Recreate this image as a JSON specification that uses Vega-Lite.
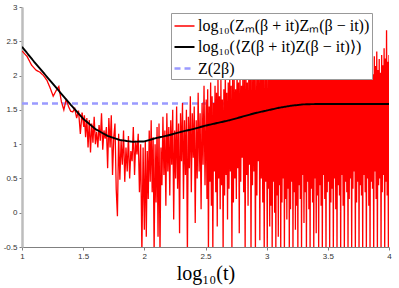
{
  "$schema": "https://vega.github.io/schema/vega-lite/v6.json",
  "width": 367,
  "height": 240,
  "autosize": {"type": "none"},
  "padding": {"left": 22, "top": 7, "right": 10, "bottom": 41},
  "background": "white",
  "datasets": {
    "ref": [{"x": 1, "y": 1.593}, {"x": 4, "y": 1.593}],
    "mean": [
      {"x": 1.0, "y": 2.42}, {"x": 1.1, "y": 2.2}, {"x": 1.2, "y": 1.99}, {"x": 1.3, "y": 1.78}, {"x": 1.4, "y": 1.57},
      {"x": 1.5, "y": 1.37}, {"x": 1.6, "y": 1.22}, {"x": 1.7, "y": 1.12}, {"x": 1.8, "y": 1.06}, {"x": 1.9, "y": 1.035},
      {"x": 2.0, "y": 1.04}, {"x": 2.1, "y": 1.09}, {"x": 2.2, "y": 1.13}, {"x": 2.3, "y": 1.18}, {"x": 2.4, "y": 1.22},
      {"x": 2.5, "y": 1.27}, {"x": 2.6, "y": 1.31}, {"x": 2.7, "y": 1.35}, {"x": 2.8, "y": 1.40}, {"x": 2.9, "y": 1.45},
      {"x": 3.0, "y": 1.49}, {"x": 3.1, "y": 1.53}, {"x": 3.2, "y": 1.56}, {"x": 3.3, "y": 1.58}, {"x": 3.4, "y": 1.585},
      {"x": 3.5, "y": 1.585}, {"x": 3.6, "y": 1.585}, {"x": 3.7, "y": 1.585}, {"x": 3.8, "y": 1.585}, {"x": 3.9, "y": 1.585}, {"x": 4.0, "y": 1.585}
    ],
    "raw": [
      {"x":1.000,"y":2.36},{"x":1.041,"y":2.28},{"x":1.079,"y":2.15},{"x":1.114,"y":2.08},{"x":1.146,"y":2.05},{"x":1.176,"y":2.00},
      {"x":1.204,"y":1.93},{"x":1.230,"y":1.82},{"x":1.255,"y":1.70},{"x":1.279,"y":1.78},{"x":1.301,"y":1.84},{"x":1.322,"y":1.62},
      {"x":1.342,"y":1.50},{"x":1.362,"y":1.66},{"x":1.380,"y":1.55},{"x":1.398,"y":1.48},{"x":1.415,"y":1.47},{"x":1.431,"y":1.52},
      {"x":1.447,"y":1.38},{"x":1.462,"y":1.49},{"x":1.477,"y":1.15},{"x":1.491,"y":1.46},{"x":1.505,"y":1.25},
      {"x":1.51,"y":1.42},{"x":1.52,"y":1.10},{"x":1.53,"y":1.38},{"x":1.54,"y":0.95},{"x":1.55,"y":1.35},{"x":1.56,"y":0.88},
      {"x":1.57,"y":1.30},{"x":1.58,"y":1.02},{"x":1.59,"y":1.40},{"x":1.60,"y":1.00},{"x":1.61,"y":1.18},{"x":1.62,"y":0.95},
      {"x":1.63,"y":1.28},{"x":1.64,"y":1.05},{"x":1.65,"y":1.45},{"x":1.66,"y":0.92},{"x":1.67,"y":1.20},{"x":1.68,"y":1.08},
      {"x":1.69,"y":1.25},{"x":1.70,"y":0.65},{"x":1.71,"y":1.38},{"x":1.72,"y":0.95},{"x":1.73,"y":1.42},{"x":1.74,"y":0.55},
      {"x":1.75,"y":1.10},{"x":1.76,"y":1.30},{"x":1.77,"y":0.35},{"x":1.78,"y":-0.05},{"x":1.79,"y":1.15},{"x":1.80,"y":0.48},
      {"x":1.81,"y":1.05},{"x":1.82,"y":0.70},{"x":1.83,"y":1.20},{"x":1.84,"y":0.45},{"x":1.85,"y":0.95},{"x":1.86,"y":0.60},
      {"x":1.87,"y":1.12},{"x":1.88,"y":0.50},{"x":1.89,"y":0.90},{"x":1.90,"y":0.75},{"x":1.91,"y":1.25},{"x":1.92,"y":0.55},
      {"x":1.93,"y":1.05},{"x":1.94,"y":0.85},{"x":1.95,"y":1.15},{"x":1.96,"y":0.30},{"x":1.97,"y":1.00},{"x":1.98,"y":-0.6},
      {"x":1.99,"y":0.95},{"x":2.00,"y":-0.25},
      {"x":2.008,"y":1.05},{"x":2.016,"y":-0.35},{"x":2.024,"y":0.90},{"x":2.032,"y":0.20},{"x":2.040,"y":1.20},{"x":2.048,"y":0.45},
      {"x":2.056,"y":1.35},{"x":2.064,"y":0.30},{"x":2.072,"y":1.10},{"x":2.080,"y":-0.6},{"x":2.088,"y":1.00},{"x":2.096,"y":0.15},
      {"x":2.104,"y":1.25},{"x":2.112,"y":-0.35},{"x":2.120,"y":1.30},{"x":2.128,"y":-0.6},{"x":2.136,"y":0.95},{"x":2.144,"y":0.40},
      {"x":2.152,"y":1.40},{"x":2.160,"y":0.55},{"x":2.168,"y":1.20},{"x":2.176,"y":0.10},{"x":2.184,"y":1.45},{"x":2.192,"y":0.60},
      {"x":2.200,"y":1.25},{"x":2.208,"y":0.25},{"x":2.216,"y":1.35},{"x":2.224,"y":0.70},{"x":2.232,"y":1.50},{"x":2.240,"y":-0.1},
      {"x":2.248,"y":1.20},{"x":2.256,"y":0.50},{"x":2.264,"y":1.55},{"x":2.272,"y":0.35},{"x":2.280,"y":1.30},{"x":2.288,"y":-0.3},
      {"x":2.296,"y":1.45},{"x":2.304,"y":0.75},{"x":2.312,"y":1.60},{"x":2.320,"y":0.20},{"x":2.328,"y":1.35},{"x":2.336,"y":0.55},
      {"x":2.344,"y":1.50},{"x":2.352,"y":-0.6},{"x":2.360,"y":1.40},{"x":2.368,"y":0.65},{"x":2.376,"y":1.70},{"x":2.384,"y":0.30},
      {"x":2.392,"y":1.45},{"x":2.400,"y":0.80},{"x":2.408,"y":1.55},{"x":2.416,"y":-0.15},{"x":2.424,"y":1.35},{"x":2.432,"y":0.50},
      {"x":2.440,"y":1.75},{"x":2.448,"y":0.60},{"x":2.456,"y":1.45},{"x":2.464,"y":0.05},{"x":2.472,"y":1.60},{"x":2.480,"y":0.70},
      {"x":2.488,"y":1.85},{"x":2.496,"y":0.40},
      {"x":2.506,"y":1.65},{"x":2.512,"y":0.20},{"x":2.518,"y":1.80},{"x":2.524,"y":-0.6},{"x":2.530,"y":1.55},{"x":2.536,"y":0.45},
      {"x":2.542,"y":1.90},{"x":2.548,"y":0.10},{"x":2.554,"y":1.70},{"x":2.560,"y":-0.6},{"x":2.566,"y":1.60},{"x":2.572,"y":0.60},
      {"x":2.578,"y":1.85},{"x":2.584,"y":0.30},{"x":2.590,"y":1.75},{"x":2.596,"y":-0.2},{"x":2.602,"y":2.00},{"x":2.608,"y":0.50},
      {"x":2.614,"y":1.70},{"x":2.620,"y":0.05},{"x":2.626,"y":1.95},{"x":2.632,"y":0.40},{"x":2.638,"y":1.65},{"x":2.644,"y":-0.6},
      {"x":2.650,"y":1.80},{"x":2.656,"y":0.25},{"x":2.662,"y":2.05},{"x":2.668,"y":0.55},{"x":2.674,"y":1.75},{"x":2.680,"y":-0.1},
      {"x":2.686,"y":1.90},{"x":2.692,"y":0.35},{"x":2.698,"y":2.10},{"x":2.704,"y":0.60},{"x":2.710,"y":1.85},{"x":2.716,"y":-0.6},
      {"x":2.722,"y":1.95},{"x":2.728,"y":0.15},{"x":2.734,"y":2.00},{"x":2.740,"y":0.50},{"x":2.746,"y":1.80},{"x":2.752,"y":0.20},
      {"x":2.758,"y":2.15},{"x":2.764,"y":0.65},{"x":2.770,"y":1.90},{"x":2.776,"y":-0.3},{"x":2.782,"y":2.05},{"x":2.788,"y":0.45},
      {"x":2.794,"y":1.85},{"x":2.800,"y":0.80},{"x":2.806,"y":2.10},{"x":2.812,"y":0.30},{"x":2.818,"y":1.95},{"x":2.824,"y":-0.6},
      {"x":2.830,"y":2.20},{"x":2.836,"y":0.55},{"x":2.842,"y":1.90},{"x":2.848,"y":0.10},{"x":2.854,"y":2.05},{"x":2.860,"y":0.70},
      {"x":2.866,"y":2.15},{"x":2.872,"y":-0.6},{"x":2.878,"y":1.95},{"x":2.884,"y":0.40},{"x":2.890,"y":2.25},{"x":2.896,"y":0.60},
      {"x":2.902,"y":2.00},{"x":2.908,"y":-0.6},{"x":2.914,"y":2.10},{"x":2.920,"y":0.25},{"x":2.926,"y":1.95},{"x":2.932,"y":0.75},
      {"x":2.938,"y":2.20},{"x":2.944,"y":-0.4},{"x":2.950,"y":2.05},{"x":2.956,"y":0.50},{"x":2.962,"y":2.30},{"x":2.968,"y":0.15},
      {"x":2.974,"y":2.00},{"x":2.980,"y":-0.6},{"x":2.986,"y":2.15},{"x":2.992,"y":0.45},{"x":2.998,"y":2.10},
      {"x":3.005,"y":-0.6},{"x":3.010,"y":2.05},{"x":3.015,"y":0.35},{"x":3.020,"y":2.20},{"x":3.025,"y":-0.2},{"x":3.030,"y":1.95},
      {"x":3.035,"y":0.10},{"x":3.040,"y":2.25},{"x":3.045,"y":-0.6},{"x":3.050,"y":2.10},{"x":3.055,"y":0.45},{"x":3.060,"y":1.98},
      {"x":3.065,"y":0.00},{"x":3.070,"y":2.30},{"x":3.075,"y":-0.6},{"x":3.080,"y":2.05},{"x":3.085,"y":0.25},{"x":3.090,"y":2.15},
      {"x":3.095,"y":-0.35},{"x":3.100,"y":2.00},{"x":3.105,"y":0.40},{"x":3.110,"y":2.25},{"x":3.115,"y":-0.6},{"x":3.120,"y":2.10},
      {"x":3.125,"y":0.15},{"x":3.130,"y":1.95},{"x":3.135,"y":0.50},{"x":3.140,"y":2.35},{"x":3.145,"y":-0.6},{"x":3.150,"y":2.05},
      {"x":3.155,"y":0.20},{"x":3.160,"y":2.20},{"x":3.165,"y":-0.1},{"x":3.170,"y":2.00},{"x":3.175,"y":0.35},{"x":3.180,"y":2.30},
      {"x":3.185,"y":-0.6},{"x":3.190,"y":2.12},{"x":3.195,"y":0.05},{"x":3.200,"y":2.05},{"x":3.205,"y":0.45},{"x":3.210,"y":2.25},
      {"x":3.215,"y":-0.6},{"x":3.220,"y":1.98},{"x":3.225,"y":0.30},{"x":3.230,"y":2.20},{"x":3.235,"y":-0.25},{"x":3.240,"y":2.35},
      {"x":3.245,"y":0.10},{"x":3.250,"y":2.08},{"x":3.255,"y":-0.6},{"x":3.260,"y":2.15},{"x":3.265,"y":0.40},{"x":3.270,"y":2.00},
      {"x":3.275,"y":0.20},{"x":3.280,"y":2.28},{"x":3.285,"y":-0.6},{"x":3.290,"y":2.10},{"x":3.295,"y":0.55},{"x":3.300,"y":2.22},
      {"x":3.305,"y":-0.15},{"x":3.310,"y":1.96},{"x":3.315,"y":0.30},{"x":3.320,"y":2.30},{"x":3.325,"y":-0.6},{"x":3.330,"y":2.05},
      {"x":3.335,"y":0.45},{"x":3.340,"y":2.18},{"x":3.345,"y":0.05},{"x":3.350,"y":2.02},{"x":3.355,"y":-0.6},{"x":3.360,"y":2.25},
      {"x":3.365,"y":0.35},{"x":3.370,"y":2.10},{"x":3.375,"y":0.15},{"x":3.380,"y":2.32},{"x":3.385,"y":-0.6},{"x":3.390,"y":2.00},
      {"x":3.395,"y":0.50},{"x":3.400,"y":2.20},{"x":3.405,"y":-0.3},{"x":3.410,"y":2.08},{"x":3.415,"y":0.25},{"x":3.420,"y":2.28},
      {"x":3.425,"y":-0.6},{"x":3.430,"y":1.97},{"x":3.435,"y":0.40},{"x":3.440,"y":2.15},{"x":3.445,"y":0.10},{"x":3.450,"y":2.30},
      {"x":3.455,"y":-0.6},{"x":3.460,"y":2.05},{"x":3.465,"y":0.55},{"x":3.470,"y":2.22},{"x":3.475,"y":0.20},{"x":3.480,"y":2.00},
      {"x":3.485,"y":-0.6},{"x":3.490,"y":2.35},{"x":3.495,"y":0.30},{"x":3.500,"y":2.10},{"x":3.505,"y":0.45},{"x":3.510,"y":2.18},
      {"x":3.515,"y":-0.6},{"x":3.520,"y":2.02},{"x":3.525,"y":0.15},{"x":3.530,"y":2.26},{"x":3.535,"y":0.35},{"x":3.540,"y":2.08},
      {"x":3.545,"y":-0.6},{"x":3.550,"y":2.32},{"x":3.555,"y":0.50},{"x":3.560,"y":2.00},{"x":3.565,"y":0.05},{"x":3.570,"y":2.20},
      {"x":3.575,"y":-0.6},{"x":3.580,"y":2.12},{"x":3.585,"y":0.40},{"x":3.590,"y":2.28},{"x":3.595,"y":0.25},{"x":3.600,"y":2.05},
      {"x":3.605,"y":-0.6},{"x":3.610,"y":2.22},{"x":3.615,"y":0.55},{"x":3.620,"y":1.98},{"x":3.625,"y":0.10},{"x":3.630,"y":2.30},
      {"x":3.635,"y":-0.6},{"x":3.640,"y":2.10},{"x":3.645,"y":0.45},{"x":3.650,"y":2.25},{"x":3.655,"y":0.30},{"x":3.660,"y":2.04},
      {"x":3.665,"y":-0.6},{"x":3.670,"y":2.35},{"x":3.675,"y":0.20},{"x":3.680,"y":2.12},{"x":3.685,"y":0.50},{"x":3.690,"y":2.00},
      {"x":3.695,"y":-0.6},{"x":3.700,"y":2.26},{"x":3.705,"y":0.35},{"x":3.710,"y":2.08},{"x":3.715,"y":0.60},{"x":3.720,"y":2.30},
      {"x":3.725,"y":-0.6},{"x":3.730,"y":2.15},{"x":3.735,"y":0.15},{"x":3.740,"y":2.02},{"x":3.745,"y":0.45},{"x":3.750,"y":2.28},
      {"x":3.755,"y":-0.6},{"x":3.760,"y":2.10},{"x":3.765,"y":0.40},{"x":3.770,"y":2.22},{"x":3.775,"y":0.25},{"x":3.780,"y":2.05},
      {"x":3.785,"y":-0.6},{"x":3.790,"y":2.33},{"x":3.795,"y":0.55},{"x":3.800,"y":2.12},{"x":3.805,"y":0.30},{"x":3.810,"y":2.00},
      {"x":3.815,"y":-0.6},{"x":3.820,"y":2.25},{"x":3.825,"y":0.50},{"x":3.830,"y":2.10},{"x":3.835,"y":0.10},{"x":3.840,"y":2.30},
      {"x":3.845,"y":-0.6},{"x":3.850,"y":2.06},{"x":3.855,"y":0.45},{"x":3.860,"y":2.20},{"x":3.865,"y":0.35},{"x":3.870,"y":2.02},
      {"x":3.875,"y":-0.6},{"x":3.880,"y":2.28},{"x":3.885,"y":0.60},{"x":3.890,"y":2.14},{"x":3.895,"y":0.20},{"x":3.900,"y":2.35},
      {"x":3.905,"y":-0.6},{"x":3.910,"y":2.08},{"x":3.915,"y":0.40},{"x":3.920,"y":2.24},{"x":3.925,"y":0.50},{"x":3.930,"y":2.04},
      {"x":3.935,"y":-0.6},{"x":3.940,"y":2.30},{"x":3.945,"y":0.30},{"x":3.950,"y":2.15},{"x":3.955,"y":0.55},{"x":3.960,"y":2.40},
      {"x":3.965,"y":-0.6},{"x":3.970,"y":2.25},{"x":3.975,"y":0.45},{"x":3.980,"y":2.66},{"x":3.985,"y":0.25},{"x":3.990,"y":2.20},
      {"x":3.995,"y":-0.6},{"x":4.000,"y":2.30}
    ]
  },
  "encoding": {
    "x": {
      "field": "x", "type": "quantitative",
      "scale": {"domain": [1, 4], "nice": false, "zero": false},
      "axis": {
        "title": "log₁₀(t)", "titleFont": "Liberation Serif", "titleFontSize": 20, "titleFontWeight": "normal",
        "titleColor": "#000000", "titlePadding": 3,
        "values": [1, 1.5, 2, 2.5, 3, 3.5, 4], "format": "~g", "grid": false,
        "domainColor": "#808080", "domainWidth": 1, "tickColor": "#808080", "tickSize": 3,
        "labelFont": "Liberation Sans", "labelFontSize": 8, "labelColor": "#333333", "labelPadding": 2, "labelFlush": false
      }
    },
    "y": {
      "field": "y", "type": "quantitative",
      "scale": {"domain": [-0.5, 3], "nice": false, "zero": false},
      "axis": {
        "title": null, "values": [-0.5, 0, 0.5, 1, 1.5, 2, 2.5, 3], "format": "~g", "grid": false,
        "domainColor": "#bdbdbd", "domainWidth": 2.5, "tickColor": "#808080", "tickSize": 3,
        "labelFont": "Liberation Sans", "labelFontSize": 8, "labelColor": "#333333", "labelPadding": 2,
        "labelExpr": "replace(datum.label, '−', '-')"
      }
    },
    "color": {
      "type": "nominal",
      "scale": {
        "domain": ["log₁₀(Zₘ(β + it)Zₘ(β − it))", "log₁₀(⟨Z(β + it)Z(β − it)⟩)", "Z(2β)"],
        "range": ["#ff0000", "#000000", "#9a9aff"]
      }
    },
    "strokeDash": {
      "type": "nominal",
      "scale": {
        "domain": ["log₁₀(Zₘ(β + it)Zₘ(β − it))", "log₁₀(⟨Z(β + it)Z(β − it)⟩)", "Z(2β)"],
        "range": [[1, 0], [1, 0], [6, 4]]
      }
    },
    "strokeWidth": {
      "type": "nominal",
      "scale": {
        "domain": ["log₁₀(Zₘ(β + it)Zₘ(β − it))", "log₁₀(⟨Z(β + it)Z(β − it)⟩)", "Z(2β)"],
        "range": [1.3, 2.5, 0.7]
      }
    }
  },
  "layer": [
    {
      "data": {"name": "ref"},
      "mark": {"type": "line", "clip": true},
      "encoding": {
        "color": {"datum": "Z(2β)", "type": "nominal"},
        "strokeDash": {"datum": "Z(2β)", "type": "nominal"},
        "strokeWidth": {"datum": "Z(2β)", "type": "nominal"}
      }
    },
    {
      "data": {"name": "raw"},
      "mark": {"type": "line", "clip": true},
      "encoding": {
        "color": {"datum": "log₁₀(Zₘ(β + it)Zₘ(β − it))", "type": "nominal"},
        "strokeDash": {"datum": "log₁₀(Zₘ(β + it)Zₘ(β − it))", "type": "nominal"},
        "strokeWidth": {"datum": "log₁₀(Zₘ(β + it)Zₘ(β − it))", "type": "nominal"}
      }
    },
    {
      "data": {"name": "mean"},
      "mark": {"type": "line", "clip": true},
      "encoding": {
        "color": {"datum": "log₁₀(⟨Z(β + it)Z(β − it)⟩)", "type": "nominal"},
        "strokeDash": {"datum": "log₁₀(⟨Z(β + it)Z(β − it)⟩)", "type": "nominal"},
        "strokeWidth": {"datum": "log₁₀(⟨Z(β + it)Z(β − it)⟩)", "type": "nominal"}
      }
    }
  ],
  "resolve": {"scale": {"color": "shared", "strokeDash": "shared", "strokeWidth": "shared"}},
  "config": {
    "view": {"stroke": null},
    "legend": {
      "orient": "none", "legendX": 149, "legendY": 6, "title": null,
      "fillColor": "white", "strokeColor": "#999999", "padding": 2,
      "labelFont": "Liberation Serif", "labelFontSize": 16, "labelColor": "#000000", "labelLimit": 400,
      "symbolType": "stroke", "symbolSize": 400, "rowPadding": 2, "labelOffset": 2
    }
  }
}
